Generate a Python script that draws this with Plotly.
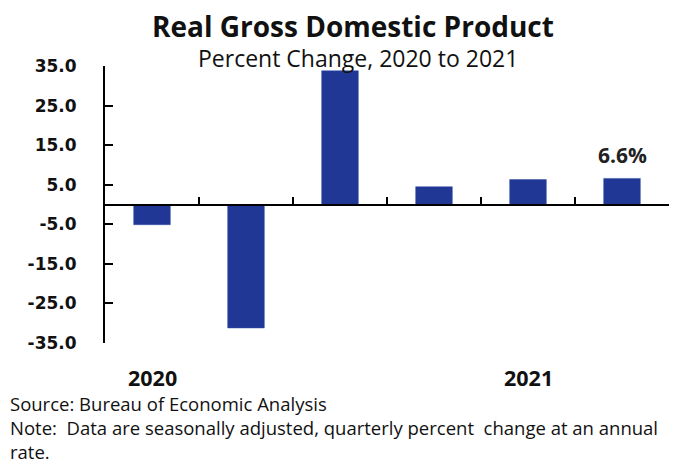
import plotly.graph_objects as go

# Data
quarters = ["2020 Q1", "2020 Q2", "2020 Q3", "2020 Q4", "2021 Q1", "2021 Q2"]
pct_change = [-5.1, -31.2, 33.8, 4.5, 6.3, 6.6]
y_ticks = [-35, -25, -15, -5, 5, 15, 25, 35]
y_tick_labels = [f"{v:.1f}" for v in y_ticks]
year_labels = ["2020", "2021"]
year_positions = [0, 4]  # index of first quarter of each year
source_note = [
    "Source: Bureau of Economic Analysis",
    "Note:  Data are seasonally adjusted, quarterly percent  change at an annual",
    "rate.",
]

OFF = 8  # default page body margin
W, H = 680 - OFF, 464 - OFF
L, R, T, B = 97, 11, 58, 121
plot_h = H - T - B
plot_w = W - L - R


def py(p):  # page pixel y -> paper y
    return (H - B - (p - OFF)) / plot_h


def px(p):  # page pixel x -> paper x
    return (p - OFF - L) / plot_w


xs = list(range(len(quarters)))
bar_color = "#213795"
FONT = "Open Sans"

fig = go.Figure()
fig.add_trace(go.Bar(
    x=xs, y=pct_change, width=0.39,
    marker=dict(color=bar_color, line=dict(color="#3550a8", width=0.5)),
    hovertext=quarters, showlegend=False,
))

ann = []
# title
ann.append(dict(text="<b>Real Gross Domestic Product</b>", xref="paper", yref="paper",
                x=px(353), y=py(26.5), xanchor="center", yanchor="middle", showarrow=False,
                borderpad=0,
                font=dict(family=FONT, size=28, color="#111")))
ann.append(dict(text="Percent Change, 2020 to 2021", xref="paper", yref="paper",
                x=px(358), y=py(57.5), xanchor="center", yanchor="middle", showarrow=False,
                borderpad=0,
                font=dict(family=FONT, size=23, color="#111")))
# last value label
ann.append(dict(text=f"<b>{pct_change[-1]:.1f}%</b>", xref="x", yref="y",
                x=xs[-1], y=pct_change[-1], xanchor="center", yanchor="bottom",
                yshift=8, showarrow=False, borderpad=0,
                font=dict(family=FONT, size=21, color="#222")))
# year labels
for lab, pos in zip(year_labels, year_positions):
    ann.append(dict(text=f"<b>{lab}</b>", xref="x", yref="paper",
                    x=pos, y=py(377), xanchor="center", yanchor="middle", showarrow=False,
                    borderpad=0,
                    font=dict(family=FONT, size=21.5, color="#111")))
# source / note
ann.append(dict(text="<br>".join(source_note), xref="paper", yref="paper",
                x=px(9), y=py(427.5), xanchor="left", yanchor="middle", align="left",
                showarrow=False, borderpad=0,
                font=dict(family=FONT, size=18.5, color="#111")))

fig.update_layout(
    width=W, height=H,
    margin=dict(l=L, r=R, t=T, b=B, pad=0),
    paper_bgcolor="white", plot_bgcolor="white",
    annotations=ann,
    xaxis=dict(
        range=[-0.5, len(quarters) - 0.5],
        anchor="free", position=0.5,
        showline=True, linecolor="black", linewidth=2,
        ticks="inside", tickvals=[i + 0.5 for i in xs], ticklen=7, tickwidth=2, tickcolor="black",
        showticklabels=False, showgrid=False, zeroline=False,
    ),
    yaxis=dict(
        range=[-35, 35],
        showline=True, linecolor="black", linewidth=2,
        ticks="inside", tickvals=y_ticks, ticktext=y_tick_labels,
        ticklen=8, tickwidth=2, tickcolor="black",
        showgrid=False, zeroline=False,
        ticklabelstandoff=23,
        tickfont=dict(family="DejaVu Sans", size=17, color="#111", weight="bold"),
    ),
)

fig.write_html("out.html")
